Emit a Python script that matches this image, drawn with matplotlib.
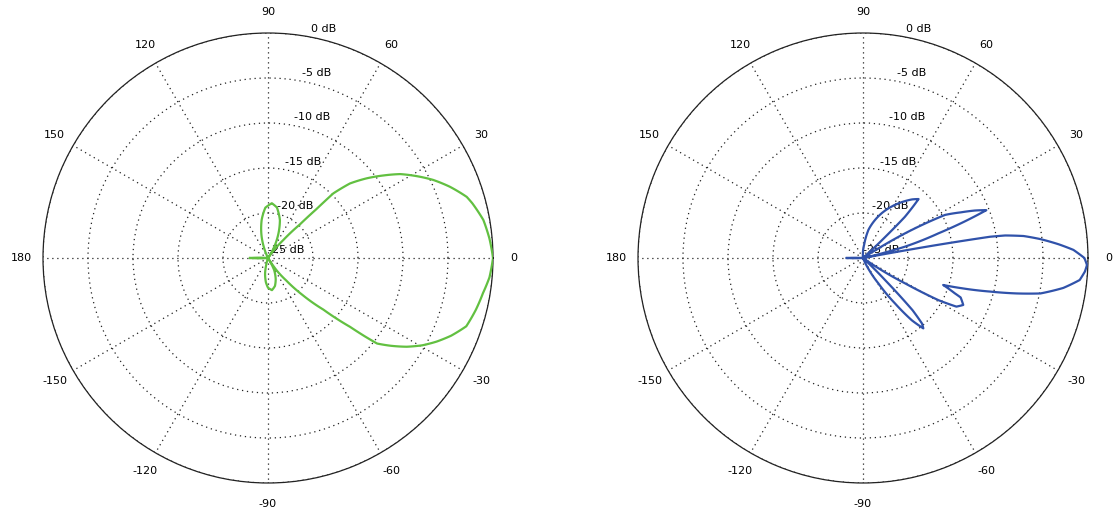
import numpy as np
import matplotlib
matplotlib.use("Agg")
import matplotlib.pyplot as plt
from matplotlib.transforms import offset_copy

# ring levels and angle ticks
db_rings = [-25, -20, -15, -10, -5, 0]
ring_labels = ["-25 dB", "-20 dB", "-15 dB", "-10 dB", "-5 dB", "0 dB"]
theta_ticks = [0, 30, 60, 90, 120, 150, 180, 210, 240, 270, 300, 330]
theta_labels = ["0", "30", "60", "90", "120", "150", "180",
                "-150", "-120", "-90", "-60", "-30"]

# left pattern (green): angle in degrees, level in dB
left_deg = [-180, -176, -115, -108, -101, -95, -90, -83, -76, -70, -63,
            -58, -55, -51, -47, -43, -40, -39, -38.1, -35.5, -32.6, -29.5, -26.4,
            -23, -19, -14, -9.3, -5, 0,
            5, 10, 15, 17.1, 21.4, 25.3, 28, 32.4, 35.5, 38.9, 42.3, 44.7,
            45.3, 46.5, 49.6, 53, 55,
            60, 64, 72.5, 80, 86, 93, 99.4, 106.5, 112, 116, 176, 180]
left_db = [-23.0, -25, -25, -25, -23.3, -22.3, -21.7, -21.4, -21.8, -22.5, -23.5,
           -25, -23.3, -21.8, -19.4, -16.6, -13.1, -11.2, -9.6, -8.2, -6.7, -5.3, -4.1,
           -2.9, -1.7, -1.2, -0.8, -0.3, 0.0,
           -0.3, -0.7, -1.5, -1.9, -3.3, -4.7, -5.8, -7.6, -9.2, -10.9, -12.7, -14.8,
           -17.4, -19.9, -22.4, -24, -25,
           -23.8, -22.8, -20.6, -19.3, -18.9, -19.4, -20.7, -22.5, -24, -25, -25, -23.0]

# right pattern (blue)
right_deg = [-180, -177, -68, -63, -58.8, -54.8, -51.9, -49.4, -48, -46.5, -45, -43,
             -35, -32.5, -31.1, -29.2, -27.5, -25.1, -22, -21, -18.6,
             -17, -14.8, -13, -11.3, -8.5, -5.8, -3.5, -1.8, 0, 2.2, 4, 6.1, 7.8,
             9, 9.5, 10, 10.5,
             12, 14, 15.1, 18.1, 19.5, 21.2, 23, 25, 27.7, 30.4, 33,
             42, 43.5, 44.5, 46.7, 50, 57.2, 67.3, 79, 85, 95, 177, 180]
right_db = [-23.2, -25, -25, -23.5, -21.7, -18.8, -16.2, -14.7, -15.2, -17, -21.5, -25,
            -25, -21.5, -19.6, -15.4, -13.3, -12.7, -13.3, -14.1, -15.6,
            -13.5, -10.4, -7.5, -4.9, -2.5, -0.8, -0.3, -0.1, -0.4, -1.6, -3.2, -5.2, -7.0,
            -9.0, -10.7, -17, -25,
            -25, -22.5, -20.2, -16.2, -13.5, -10.3, -11.5, -13, -14.7, -19.6, -25,
            -25, -21.5, -18.5, -16, -16.5, -17.8, -19.6, -21.8, -23.5, -25, -25, -23.2]

fig = plt.figure(figsize=(11.19, 5.31), dpi=100)

def polar_panel(rect, deg, db, color):
    ax = fig.add_axes(rect, projection="polar")
    line, = ax.plot(np.deg2rad(deg), db, color=color, linewidth=1.6, zorder=3)
    # draw each segment along the polar grid instead of as a chord
    line.get_path()._interpolation_steps = 24
    ax.set_ylim(-25, 0)
    ax.set_yticks(db_rings)
    ax.set_yticklabels([])
    ax.set_xticks(np.deg2rad(theta_ticks))
    ax.set_xticklabels([])
    ax.grid(True, color="#222222", linestyle=(0, (1, 3)), linewidth=0.9)
    ax.spines["polar"].set_linewidth(0.9)
    ax.spines["polar"].set_color("#222222")
    # angle labels, all at the same distance outside the rim
    for ang, lab in zip(theta_ticks, theta_labels):
        ax.text(np.deg2rad(ang), 2.35, lab, fontsize=8, ha="center", va="center",
                clip_on=False)
    # ring labels
    shifted = offset_copy(ax.transData, fig=fig, x=0, y=3, units="dots")
    for level, lab in zip(db_rings, ring_labels):
        ax.text(np.deg2rad(79), level, lab, fontsize=8, ha="left", va="bottom",
                transform=shifted, zorder=2)
    return ax

polar_panel([43 / 1119, 48 / 531, 450 / 1119, 450 / 531], left_deg, left_db, "#62c041")
polar_panel([638 / 1119, 48 / 531, 450 / 1119, 450 / 531], right_deg, right_db, "#3052aa")

fig.savefig("out.png", dpi=100)
